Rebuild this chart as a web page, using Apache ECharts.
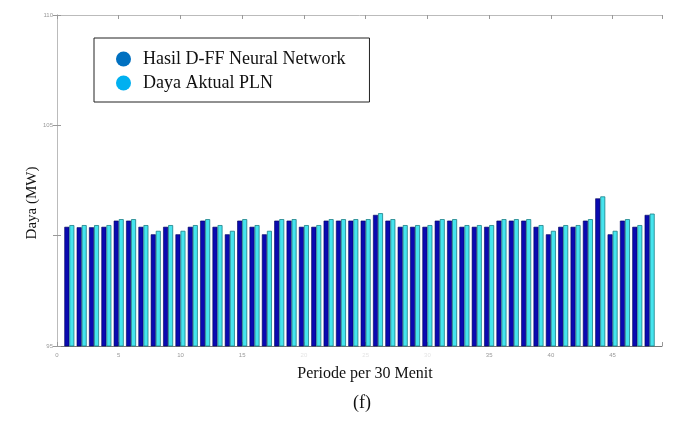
<!DOCTYPE html>
<html>
<head>
<meta charset="utf-8">
<script src="https://cdn.jsdelivr.net/npm/echarts@6/dist/echarts.min.js"></script>
<style>html,body{margin:0;padding:0;background:#fff}#c{width:681px;height:438px}</style>
</head>
<body>
<div id="c"></div>
<script>
var periods = [1,2,3,4,5,6,7,8,9,10,11,12,13,14,15,16,17,18,19,20,21,22,23,24,25,26,27,28,29,30,31,32,33,34,35,36,37,38,39,40,41,42,43,44,45,46,47,48];
var hasilNN = [100.40,100.38,100.38,100.40,100.68,100.68,100.40,100.06,100.40,100.06,100.40,100.68,100.40,100.06,100.68,100.40,100.06,100.68,100.68,100.40,100.40,100.68,100.68,100.68,100.68,100.94,100.68,100.40,100.40,100.40,100.68,100.68,100.40,100.40,100.40,100.68,100.68,100.68,100.40,100.06,100.40,100.40,100.68,101.69,100.06,100.68,100.40,100.94];
var dayaPLN = [100.48,100.48,100.48,100.48,100.75,100.75,100.48,100.22,100.48,100.22,100.48,100.75,100.48,100.22,100.75,100.48,100.22,100.75,100.75,100.48,100.48,100.75,100.75,100.75,100.75,101.02,100.75,100.48,100.48,100.48,100.75,100.75,100.48,100.48,100.48,100.75,100.75,100.75,100.48,100.22,100.48,100.48,100.75,101.78,100.22,100.75,100.48,101.00];
var xTicks = [0,5,10,15,20,25,30,35,40,45];
var faintTicks = [20,25,30];
var yTicks = [95,105,110];

var serif = '"Liberation Serif","Times New Roman",serif';
var chart = echarts.init(document.getElementById('c'));
function pairs(vals){ return periods.map(function(p,i){ return [p, vals[i]]; }); }

chart.setOption({
  animation: false,
  grid: {left: 57, right: 19, top: 15, bottom: 92},
  legend: {
    orient: 'vertical', left: 94, top: 38,
    padding: [12, 24, 10, 22],
    itemGap: 6, itemWidth: 15, itemHeight: 15,
    borderColor: '#222', borderWidth: 1, backgroundColor: '#fff',
    textStyle: {fontFamily: serif, fontSize: 18, color: '#111', padding: [0,0,0,7], lineHeight: 18},
    data: [
      {name: 'Hasil D-FF Neural Network', icon: 'circle', itemStyle: {color: '#0070c0', borderWidth: 0}},
      {name: 'Daya Aktual PLN', icon: 'circle', itemStyle: {color: '#00b0f0', borderWidth: 0}}
    ]
  },
  xAxis: [{
    type: 'value', min: 0, max: 49, interval: 5,
    axisLine: {lineStyle: {color: '#777', width: 1}},
    axisTick: {inside: true, length: 4, lineStyle: {color: '#999'}},
    axisLabel: {fontSize: 6, color: '#999', margin: 6,
      formatter: function(v){
        if (xTicks.indexOf(v) < 0) return '';
        if (faintTicks.indexOf(v) >= 0) return '{f|' + v + '}';
        return String(v);
      },
      rich: {f: {fontSize: 6, color: '#e4e4e4'}}
    },
    splitLine: {show: false}
  }, {
    type: 'value', min: 0, max: 49, interval: 5, position: 'top',
    axisLine: {show: true, lineStyle: {color: '#bbb'}},
    axisTick: {show: true, inside: true, length: 4, lineStyle: {color: '#999'}},
    axisLabel: {show: false}, splitLine: {show: false}
  }],
  yAxis: [{
    type: 'value', min: 95, max: 110, interval: 5,
    axisLine: {show: true, lineStyle: {color: '#bbb'}},
    axisTick: {show: true, inside: true, length: 4, lineStyle: {color: '#999'}},
    axisLabel: {fontSize: 6, color: '#999', margin: 4,
      formatter: function(v){ return yTicks.indexOf(v) >= 0 ? String(v) : ''; }},
    splitLine: {show: false}
  }, {
    type: 'value', min: 95, max: 110, interval: 5, position: 'right',
    axisLine: {show: true, lineStyle: {color: '#bbb'}},
    axisTick: {show: true, inside: true, length: 4, lineStyle: {color: '#999'}},
    axisLabel: {show: false}, splitLine: {show: false}
  }],
  series: [{
    name: 'Hasil D-FF Neural Network', type: 'bar', xAxisIndex: 0, yAxisIndex: 0,
    barWidth: 5, barGap: '0%',
    itemStyle: {color: '#0a0ab0', borderColor: '#00005a', borderWidth: 0.6},
    data: pairs(hasilNN)
  }, {
    name: 'Daya Aktual PLN', type: 'bar', xAxisIndex: 0, yAxisIndex: 0,
    barWidth: 5, barGap: '0%',
    itemStyle: {color: '#46e4ee', borderColor: '#1b7f86', borderWidth: 0.8},
    data: pairs(dayaPLN)
  }],
  graphic: [{
    type: 'text', x: 32, y: 203, rotation: Math.PI / 2,
    style: {text: 'Daya (MW)', fontFamily: serif, fontSize: 15, fill: '#111', align: 'center', verticalAlign: 'middle'}
  }, {
    type: 'text', x: 365, y: 374,
    style: {text: 'Periode per 30 Menit', fontFamily: serif, fontSize: 16, fill: '#111', align: 'center', verticalAlign: 'middle'}
  }, {
    type: 'text', x: 362, y: 403,
    style: {text: '(f)', fontFamily: serif, fontSize: 18, fill: '#111', align: 'center', verticalAlign: 'middle'}
  }]
});
</script>
</body>
</html>
